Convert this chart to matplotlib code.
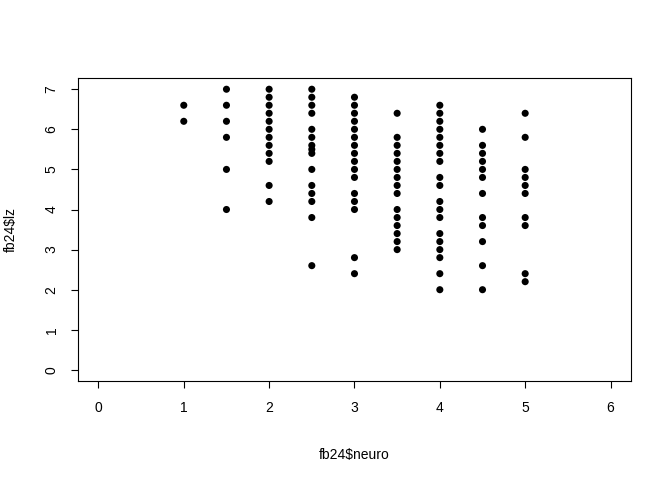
import numpy as np
import matplotlib
matplotlib.use("Agg")
import matplotlib.pyplot as plt

plt.rcParams['font.family'] = ['Liberation Sans', 'DejaVu Sans']
plt.rcParams['text.parse_math'] = False

# fb24$neuro -> values of fb24$lz seen at that level
neuro_levels = [1.0, 1.5, 2.0, 2.5, 3.0, 3.5, 4.0, 4.5, 5.0]
lz_1_0 = [6.6, 6.2]
lz_1_5 = [7.0, 6.6, 6.2, 5.8, 5.0, 4.0]
lz_2_0 = [7.0, 6.8, 6.6, 6.4, 6.2, 6.0, 5.8, 5.6, 5.4, 5.2, 4.6, 4.2]
lz_2_5 = [7.0, 6.8, 6.6, 6.4, 6.0, 5.8, 5.6, 5.5, 5.4, 5.0, 4.6, 4.4, 4.2, 3.8, 2.6]
lz_3_0 = [6.8, 6.6, 6.4, 6.2, 6.0, 5.8, 5.6, 5.4, 5.2, 5.0, 4.8, 4.4, 4.2, 4.0, 2.8, 2.4]
lz_3_5 = [6.4, 5.8, 5.6, 5.4, 5.2, 5.0, 4.8, 4.6, 4.4, 4.0, 3.8, 3.6, 3.4, 3.2, 3.0]
lz_4_0 = [6.6, 6.4, 6.2, 6.0, 5.8, 5.6, 5.4, 5.2, 4.8, 4.6, 4.2, 4.0, 3.8, 3.4, 3.2,
          3.0, 2.8, 2.4, 2.0]
lz_4_5 = [6.0, 5.6, 5.4, 5.2, 5.0, 4.8, 4.4, 3.8, 3.6, 3.2, 2.6, 2.0]
lz_5_0 = [6.4, 5.8, 5.0, 4.8, 4.6, 4.4, 3.8, 3.6, 2.4, 2.2]
lz_groups = [lz_1_0, lz_1_5, lz_2_0, lz_2_5, lz_3_0, lz_3_5, lz_4_0, lz_4_5, lz_5_0]

neuro = np.concatenate([[lvl] * len(g) for lvl, g in zip(neuro_levels, lz_groups)])
lz = np.concatenate(lz_groups)

fig = plt.figure(figsize=(6.72, 4.8), dpi=100)
ax = fig.add_axes([0.116, 0.206, 0.823, 0.6315])

ax.scatter(neuro, lz, s=26, c='black', edgecolors='none')

# R style: 4% padding round 0..6 and 0..7
ax.set_xlim(-0.24, 6.24)
ax.set_ylim(-0.28, 7.28)
ax.set_xticks(range(0, 7))
ax.set_yticks(range(0, 8))
ax.tick_params(direction='out', length=5, width=0.8, labelsize=10, pad=9)
for lab in ax.get_yticklabels():
    lab.set_rotation(90)
    lab.set_va('center')
for sp in ax.spines.values():
    sp.set_linewidth(0.8)

ax.set_xlabel('fb24$neuro', fontsize=10, labelpad=24)
ax.set_ylabel('fb24$lz', fontsize=10, labelpad=19)

fig.savefig('out.png', dpi=100)
